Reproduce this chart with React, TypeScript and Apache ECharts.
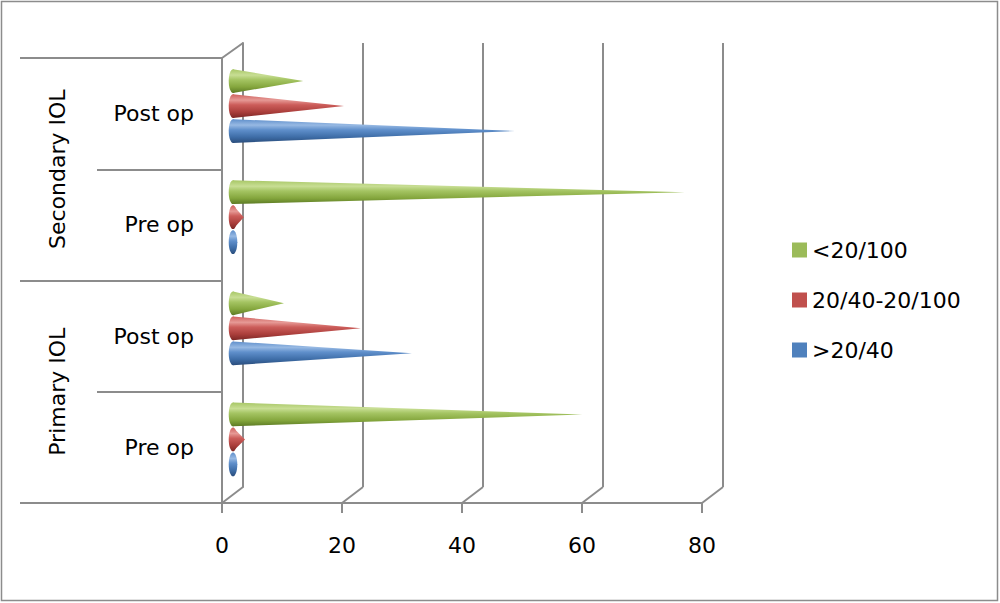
import React, { useEffect, useRef } from "react";
import * as echarts from "echarts";

// Categories (bottom to top on the axis)
const groups = ["Primary IOL", "Secondary IOL"];
const stages = ["Pre op", "Post op"];
const categories = groups.flatMap((g) => stages.map((s) => `${g}|${s}`));

// Series (legend order)
const seriesNames = ["<20/100", "20/40-20/100", ">20/40"];
const lt20_100 = [58.2, 8.5, 75.3, 11.7];
const mid20_40_100 = [2, 21.3, 1.8, 18.5];
const gt20_40 = [0.7, 29.8, 0.7, 47];
const seriesValues = [lt20_100, mid20_40_100, gt20_40];

const xTicks = [0, 20, 40, 60, 80];

const flatColors = ["#9BBB59", "#C0504D", "#4F81BD"];
const gradStops = [
  ["#a8c766", "#c8de94", "#a4c462", "#84a63d", "#5c7a24"],
  ["#cf615e", "#e69995", "#cc5d5a", "#aa3e3b", "#7c2725"],
  ["#5f8fcb", "#97b9e3", "#5f8fcb", "#3e6da7", "#2a4d7c"],
];
const offsets = [-1, 0, 1];

const FONT = "DejaVu Sans";
const LINE = "#8c8c8c";

function makeRender(idx: number) {
  return (params: any, api: any) => {
    const cat = api.value(0);
    const val = api.value(1);
    const base = api.coord([0, cat]);
    const tip = api.coord([val, cat]);
    const band = api.size([0, 1])[1];
    const step = band * 0.225;
    const r = band * 0.107;
    const cy = base[1] + offsets[idx] * step;
    const x0 = base[0];
    const x1 = tip[0];
    const rx = r * 0.36;
    const s = gradStops[idx];
    const fill = () =>
      new echarts.graphic.LinearGradient(0, 0, 0, 1, [
        { offset: 0, color: s[0] },
        { offset: 0.25, color: s[1] },
        { offset: 0.45, color: s[2] },
        { offset: 0.75, color: s[3] },
        { offset: 1, color: s[4] },
      ]);
    return {
      type: "group",
      children: [
        {
          type: "ellipse",
          shape: { cx: x0, cy, rx, ry: r },
          style: { fill: fill() },
        },
        {
          type: "polygon",
          shape: {
            points: [
              [x0, cy - r],
              [x1, cy],
              [x0, cy + r],
            ],
          },
          style: { fill: fill() },
        },
      ],
    };
  };
}

export default function App() {
  const ref = useRef<HTMLDivElement>(null);

  useEffect(() => {
    if (!ref.current) return;
    const chart = echarts.init(ref.current, undefined, { renderer: "svg" });

    const frontL = 222,
      frontT = 58,
      frontB = 503,
      W = 480;
    const backL = 243,
      backT = 43,
      backB = 487;
    const coneL = 233,
      coneT = 50.5,
      coneB = 495;

    const lineStyle = { color: LINE, width: 2 };
    const diag: any[] = [
      { type: "line", shape: { x1: frontL, y1: frontT, x2: backL, y2: backT }, style: { stroke: LINE, lineWidth: 2 } },
      { type: "line", shape: { x1: frontL, y1: frontB, x2: backL, y2: backB }, style: { stroke: LINE, lineWidth: 2 } },
    ];
    xTicks.slice(1).forEach((t) => {
      const fx = frontL + (t / 80) * W;
      const bx = backL + (t / 80) * W;
      diag.push({
        type: "line",
        shape: { x1: bx, y1: backB, x2: fx, y2: frontB },
        style: { stroke: LINE, lineWidth: 2 },
      });
    });
    diag.push({
      type: "rect",
      shape: { x: 1.5, y: 1.5, width: 996, height: 599 },
      style: { fill: "none", stroke: "#8c8c8c", lineWidth: 1.5 },
    });

    const option: any = {
      animation: false,
      backgroundColor: "#ffffff",
      textStyle: { fontFamily: FONT },
      grid: [
        { left: frontL, top: frontT, width: W, height: frontB - frontT },
        { left: backL, top: backT, width: W, height: backB - backT },
        { left: coneL, top: coneT, width: W, height: coneB - coneT },
      ],
      xAxis: [
        {
          gridIndex: 0,
          type: "value",
          min: 0,
          max: 80,
          interval: 20,
          axisLine: { show: true, lineStyle },
          axisTick: { show: true, length: 10, lineStyle },
          axisLabel: { fontSize: 22, color: "#000", margin: 31, fontFamily: FONT },
          splitLine: { show: false },
        },
        {
          gridIndex: 1,
          type: "value",
          min: 0,
          max: 80,
          interval: 20,
          axisLine: { show: false },
          axisTick: { show: false },
          axisLabel: { show: false },
          splitLine: { show: true, lineStyle },
        },
        {
          gridIndex: 2,
          type: "value",
          min: 0,
          max: 80,
          show: false,
        },
      ],
      yAxis: [
        {
          gridIndex: 0,
          type: "category",
          data: categories,
          axisLine: { show: true, lineStyle },
          axisTick: { show: true, length: 125, alignWithLabel: false, lineStyle },
          axisLabel: {
            fontSize: 22,
            color: "#000",
            margin: 28,
            fontFamily: FONT,
            formatter: (v: string) => v.split("|")[1],
          },
          splitLine: { show: false },
        },
        {
          gridIndex: 0,
          type: "category",
          data: groups,
          position: "left",
          axisLine: { show: false },
          axisTick: { show: true, length: 202, alignWithLabel: false, lineStyle },
          axisLabel: {
            fontSize: 22,
            color: "#000",
            rotate: 90,
            margin: 154,
            fontFamily: FONT,
          },
          splitLine: { show: false },
        },
        {
          gridIndex: 1,
          type: "category",
          data: categories,
          axisLine: { show: true, lineStyle },
          axisTick: { show: false },
          axisLabel: { show: false },
          splitLine: { show: false },
        },
        {
          gridIndex: 2,
          type: "category",
          data: categories,
          show: false,
        },
      ],
      legend: {
        orient: "vertical",
        left: 792,
        top: 239,
        itemWidth: 15,
        itemHeight: 15,
        itemGap: 28,
        icon: "rect",
        padding: 0,
        data: seriesNames,
        textStyle: { fontSize: 22, lineHeight: 22, color: "#000", fontFamily: FONT },
      },
      series: seriesNames.map((name, idx) => ({
        type: "custom",
        name,
        xAxisIndex: 2,
        yAxisIndex: 3,
        itemStyle: { color: flatColors[idx] },
        encode: { x: 1, y: 0 },
        data: seriesValues[idx].map((v, i) => [i, v]),
        renderItem: makeRender(idx),
        z: 5,
      })),
      graphic: diag,
    };

    chart.setOption(option);
    return () => chart.dispose();
  }, []);

  return (
    <div
      ref={ref}
      style={{ position: "absolute", left: 0, top: 0, width: 1000, height: 603, background: "#fff" }}
    />
  );
}
